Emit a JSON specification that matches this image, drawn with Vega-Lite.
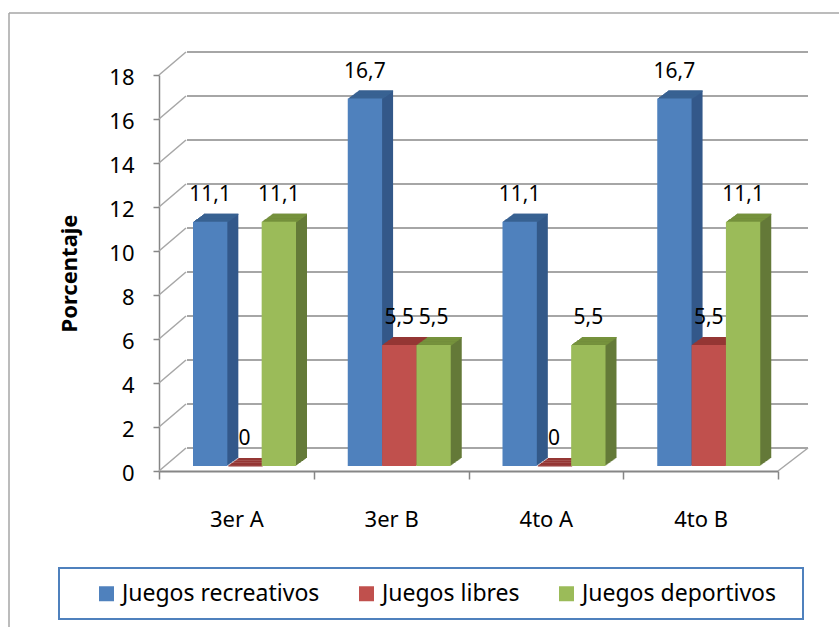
{"$schema":"https://vega.github.io/schema/vega-lite/v6.json","width":619,"height":396,"autosize":"none","padding":{"left":159,"top":75,"right":61,"bottom":156},"background":"white","config":{"view":{"stroke":null},"font":"Noto Sans","text":{"font":"Noto Sans"}},"datasets":{"bars":[{"curso":"3er A","serie":"Juegos recreativos","valor":11.1,"etiqueta":"11,1"},{"curso":"3er A","serie":"Juegos libres","valor":0,"etiqueta":"0"},{"curso":"3er A","serie":"Juegos deportivos","valor":11.1,"etiqueta":"11,1"},{"curso":"3er B","serie":"Juegos recreativos","valor":16.7,"etiqueta":"16,7"},{"curso":"3er B","serie":"Juegos libres","valor":5.5,"etiqueta":"5,5"},{"curso":"3er B","serie":"Juegos deportivos","valor":5.5,"etiqueta":"5,5"},{"curso":"4to A","serie":"Juegos recreativos","valor":11.1,"etiqueta":"11,1"},{"curso":"4to A","serie":"Juegos libres","valor":0,"etiqueta":"0"},{"curso":"4to A","serie":"Juegos deportivos","valor":5.5,"etiqueta":"5,5"},{"curso":"4to B","serie":"Juegos recreativos","valor":16.7,"etiqueta":"16,7"},{"curso":"4to B","serie":"Juegos libres","valor":5.5,"etiqueta":"5,5"},{"curso":"4to B","serie":"Juegos deportivos","valor":11.1,"etiqueta":"11,1"}],"marcas":[{"v":0},{"v":2},{"v":4},{"v":6},{"v":8},{"v":10},{"v":12},{"v":14},{"v":16},{"v":18}],"uno":[{"tope":18,"base":0}]},"encoding":{"x":{"field":"curso","type":"nominal","scale":{"domain":["3er A","3er B","4to A","4to B"],"paddingInner":0,"paddingOuter":0},"axis":{"title":null,"labelAngle":0,"labelFont":"Noto Sans","labelFontSize":22,"labelColor":"#000","labelPadding":30,"tickBand":"extent","tickSize":8,"tickWidth":1.5,"tickColor":"#868686","domainColor":"#868686","domainWidth":2}},"y":{"field":"valor","type":"quantitative","scale":{"domain":[0,18],"nice":false},"axis":{"title":"Porcentaje","titleFont":"Noto Sans","titleFontSize":22,"titleFontWeight":"bold","titleColor":"#000","titleX":-78,"titleY":198,"labelFont":"Noto Sans","labelFontSize":22,"labelColor":"#000","labelPadding":19,"labelOffset":2,"tickSize":6,"tickWidth":1.5,"tickColor":"#868686","domainColor":"#868686","domainWidth":1.5,"grid":false,"values":[0,2,4,6,8,10,12,14,16,18]}}},"resolve":{"scale":{"fill":"independent","xOffset":"independent"}},"layer":[{"data":{"name":"marcas"},"mark":{"type":"rule","color":"#a6a6a6","strokeWidth":2,"xOffset":28,"x2Offset":30,"yOffset":-23,"y2Offset":-23},"encoding":{"x":{"datum":"3er A","bandPosition":0},"x2":{"datum":"4to B","bandPosition":1},"y":{"field":"v","type":"quantitative"}}},{"data":{"name":"marcas"},"mark":{"type":"rule","color":"#a6a6a6","strokeWidth":1.5,"x2Offset":27,"y2Offset":-23},"encoding":{"x":{"datum":"3er A","bandPosition":0},"x2":{"datum":"3er A","bandPosition":0},"y":{"field":"v","type":"quantitative"},"y2":{"field":"v"}}},{"data":{"values":[{"v":0}]},"mark":{"type":"rule","color":"#a6a6a6","strokeWidth":1.5,"x2Offset":30,"y2Offset":-23},"encoding":{"x":{"datum":"4to B","bandPosition":1},"x2":{"datum":"4to B","bandPosition":1},"y":{"field":"v","type":"quantitative"},"y2":{"field":"v"}}},{"data":{"name":"uno"},"mark":{"type":"rule","color":"#a6a6a6","strokeWidth":1.5,"xOffset":-150,"x2Offset":61,"yOffset":-62},"encoding":{"x":{"datum":"3er A","bandPosition":0},"x2":{"datum":"4to B","bandPosition":1},"y":{"field":"tope","type":"quantitative"}}},{"data":{"name":"uno"},"mark":{"type":"rule","color":"#a6a6a6","strokeWidth":1.5,"xOffset":-150,"yOffset":-62,"y2Offset":156},"encoding":{"x":{"datum":"3er A","bandPosition":0},"y":{"field":"tope","type":"quantitative"},"y2":{"field":"base"}}},{"data":{"name":"uno"},"mark":{"type":"rect","fill":"transparent","stroke":"#4f81bd","strokeWidth":2,"xOffset":-100,"x2Offset":25,"yOffset":97,"y2Offset":148},"encoding":{"x":{"datum":"3er A","bandPosition":0},"x2":{"datum":"4to B","bandPosition":1},"y":{"field":"base","type":"quantitative"},"y2":{"field":"base"}}},{"data":{"name":"bars"},"resolve":{"scale":{"fill":"independent","xOffset":"independent"}},"layer":[{"encoding":{"y2":{"datum":0},"fill":{"field":"serie","type":"nominal","scale":{"domain":["Juegos recreativos","Juegos libres","Juegos deportivos"],"range":["#34598a","#8f3a38","#647a38"]},"legend":null}},"resolve":{"scale":{"xOffset":"independent"}},"layer":[{"mark":{"type":"bar","yOffset":-13,"y2Offset":-13},"encoding":{"xOffset":{"field":"serie","type":"nominal","scale":{"domain":["Juegos recreativos","Juegos libres","Juegos deportivos"],"range":[45,148]}}}},{"mark":{"type":"bar","yOffset":-12.3,"y2Offset":-12.3},"encoding":{"xOffset":{"field":"serie","type":"nominal","scale":{"domain":["Juegos recreativos","Juegos libres","Juegos deportivos"],"range":[44,147]}}}},{"mark":{"type":"bar","yOffset":-11.6,"y2Offset":-11.6},"encoding":{"xOffset":{"field":"serie","type":"nominal","scale":{"domain":["Juegos recreativos","Juegos libres","Juegos deportivos"],"range":[43,146]}}}},{"mark":{"type":"bar","yOffset":-10.8,"y2Offset":-10.8},"encoding":{"xOffset":{"field":"serie","type":"nominal","scale":{"domain":["Juegos recreativos","Juegos libres","Juegos deportivos"],"range":[42,145]}}}},{"mark":{"type":"bar","yOffset":-10.1,"y2Offset":-10.1},"encoding":{"xOffset":{"field":"serie","type":"nominal","scale":{"domain":["Juegos recreativos","Juegos libres","Juegos deportivos"],"range":[41,144]}}}},{"mark":{"type":"bar","yOffset":-9.4,"y2Offset":-9.4},"encoding":{"xOffset":{"field":"serie","type":"nominal","scale":{"domain":["Juegos recreativos","Juegos libres","Juegos deportivos"],"range":[40,143]}}}},{"mark":{"type":"bar","yOffset":-8.6,"y2Offset":-8.6},"encoding":{"xOffset":{"field":"serie","type":"nominal","scale":{"domain":["Juegos recreativos","Juegos libres","Juegos deportivos"],"range":[39,142]}}}},{"mark":{"type":"bar","yOffset":-7.9,"y2Offset":-7.9},"encoding":{"xOffset":{"field":"serie","type":"nominal","scale":{"domain":["Juegos recreativos","Juegos libres","Juegos deportivos"],"range":[38,141]}}}},{"mark":{"type":"bar","yOffset":-7.2,"y2Offset":-7.2},"encoding":{"xOffset":{"field":"serie","type":"nominal","scale":{"domain":["Juegos recreativos","Juegos libres","Juegos deportivos"],"range":[37,140]}}}},{"mark":{"type":"bar","yOffset":-6.5,"y2Offset":-6.5},"encoding":{"xOffset":{"field":"serie","type":"nominal","scale":{"domain":["Juegos recreativos","Juegos libres","Juegos deportivos"],"range":[36,139]}}}},{"mark":{"type":"bar","yOffset":-5.7,"y2Offset":-5.7},"encoding":{"xOffset":{"field":"serie","type":"nominal","scale":{"domain":["Juegos recreativos","Juegos libres","Juegos deportivos"],"range":[35,138]}}}}]},{"encoding":{"y2":{"field":"valor"},"fill":{"field":"serie","type":"nominal","scale":{"domain":["Juegos recreativos","Juegos libres","Juegos deportivos"],"range":["#396292","#953735","#76923c"]},"legend":null}},"resolve":{"scale":{"xOffset":"independent"}},"layer":[{"mark":{"type":"bar","yOffset":-13,"y2Offset":-11.8},"encoding":{"xOffset":{"field":"serie","type":"nominal","scale":{"domain":["Juegos recreativos","Juegos libres","Juegos deportivos"],"range":[45,148]}}}},{"mark":{"type":"bar","yOffset":-12.3,"y2Offset":-11.1},"encoding":{"xOffset":{"field":"serie","type":"nominal","scale":{"domain":["Juegos recreativos","Juegos libres","Juegos deportivos"],"range":[44,147]}}}},{"mark":{"type":"bar","yOffset":-11.6,"y2Offset":-10.4},"encoding":{"xOffset":{"field":"serie","type":"nominal","scale":{"domain":["Juegos recreativos","Juegos libres","Juegos deportivos"],"range":[43,146]}}}},{"mark":{"type":"bar","yOffset":-10.8,"y2Offset":-9.6},"encoding":{"xOffset":{"field":"serie","type":"nominal","scale":{"domain":["Juegos recreativos","Juegos libres","Juegos deportivos"],"range":[42,145]}}}},{"mark":{"type":"bar","yOffset":-10.1,"y2Offset":-8.9},"encoding":{"xOffset":{"field":"serie","type":"nominal","scale":{"domain":["Juegos recreativos","Juegos libres","Juegos deportivos"],"range":[41,144]}}}},{"mark":{"type":"bar","yOffset":-9.4,"y2Offset":-8.2},"encoding":{"xOffset":{"field":"serie","type":"nominal","scale":{"domain":["Juegos recreativos","Juegos libres","Juegos deportivos"],"range":[40,143]}}}},{"mark":{"type":"bar","yOffset":-8.6,"y2Offset":-7.4},"encoding":{"xOffset":{"field":"serie","type":"nominal","scale":{"domain":["Juegos recreativos","Juegos libres","Juegos deportivos"],"range":[39,142]}}}},{"mark":{"type":"bar","yOffset":-7.9,"y2Offset":-6.7},"encoding":{"xOffset":{"field":"serie","type":"nominal","scale":{"domain":["Juegos recreativos","Juegos libres","Juegos deportivos"],"range":[38,141]}}}},{"mark":{"type":"bar","yOffset":-7.2,"y2Offset":-6},"encoding":{"xOffset":{"field":"serie","type":"nominal","scale":{"domain":["Juegos recreativos","Juegos libres","Juegos deportivos"],"range":[37,140]}}}},{"mark":{"type":"bar","yOffset":-6.5,"y2Offset":-5.3},"encoding":{"xOffset":{"field":"serie","type":"nominal","scale":{"domain":["Juegos recreativos","Juegos libres","Juegos deportivos"],"range":[36,139]}}}},{"mark":{"type":"bar","yOffset":-5.7,"y2Offset":-4.5},"encoding":{"xOffset":{"field":"serie","type":"nominal","scale":{"domain":["Juegos recreativos","Juegos libres","Juegos deportivos"],"range":[35,138]}}}}]},{"mark":{"type":"bar","yOffset":-5,"y2Offset":-5},"encoding":{"xOffset":{"field":"serie","type":"nominal","scale":{"domain":["Juegos recreativos","Juegos libres","Juegos deportivos"],"range":[34,137]}},"y2":{"datum":0},"fill":{"field":"serie","type":"nominal","scale":{"domain":["Juegos recreativos","Juegos libres","Juegos deportivos"],"range":["#4f81bd","#c0504d","#9bbb59"]},"legend":{"title":null,"orient":"none","legendX":-64,"legendY":507,"direction":"horizontal","columns":3,"symbolType":"square","symbolSize":225,"symbolStrokeWidth":0,"labelFont":"Noto Sans","labelFontSize":23,"labelColor":"#000","labelOffset":4,"columnPadding":35,"padding":0,"labelLimit":300}}}},{"mark":{"type":"text","font":"Noto Sans","fontSize":21,"color":"#000","dy":-32},"encoding":{"xOffset":{"field":"serie","type":"nominal","scale":{"domain":["Juegos recreativos","Juegos libres","Juegos deportivos"],"range":[34,137]}},"text":{"field":"etiqueta","type":"nominal"}}}]}]}
